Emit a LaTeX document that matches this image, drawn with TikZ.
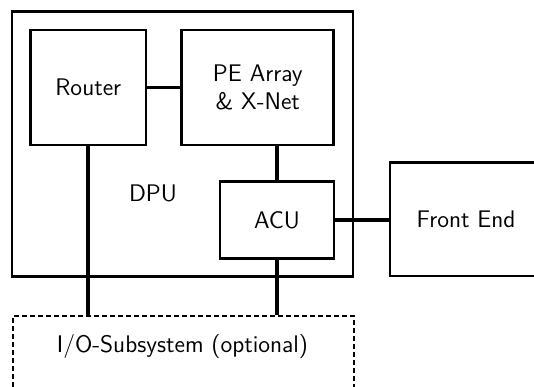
\documentclass[tikz,border=0pt]{standalone}
\usepackage{tikz}
\usetikzlibrary{positioning}
\begin{document}
\begin{tikzpicture}[x=0.5pt,y=-0.5pt]
\tikzstyle{every node}=[font=\fontsize{12}{14}\sffamily]
\tikzstyle{unit}=[draw,line width=1.4pt,inner sep=0pt,align=center]
\tikzstyle{link}=[line width=1.4pt]
\tikzstyle{bus}=[line width=2pt]
\tikzstyle{iobox}=[draw,line width=1pt,dash pattern=on 2.5pt off 1.5pt]
\useasboundingbox (0,0) rectangle (534,386);
\clip (0,0) rectangle (534,386);
\node [unit,minimum width=170.5pt,minimum height=132.5pt] (dpu) at (182.5,144) {};
\node (dpulabel) at (153,193) {DPU};
\node [unit,minimum width=57.7pt,minimum height=57.5pt] (router) at (88.3,87.5) {Router};
\node [unit,minimum width=76pt,minimum height=57.5pt] (pe) at (257.8,87.5) {PE Array\\\& X-Net};
\node [unit,minimum width=57pt,minimum height=38.3pt] (acu) at (277,220) {ACU};
\node [unit,minimum width=76pt,minimum height=56.7pt] (fe) at (466,219.3) {Front End};
\node [iobox,minimum width=170.5pt,minimum height=50pt,anchor=north west] (io) at (12,315) {};
\node (iolabel) at (182.5,347) {I/O-Subsystem (optional)};
\draw [link] (router) -- (pe);
\draw [bus] (acu.north) -- (acu.north |- pe.south);
\draw [bus] (acu.east) -- (acu.east -| fe.west);
\draw [bus] (router.south) -- (router.south |- io.north);
\draw [bus] (acu.south) -- (acu.south |- io.north);
\end{tikzpicture}
\end{document}
